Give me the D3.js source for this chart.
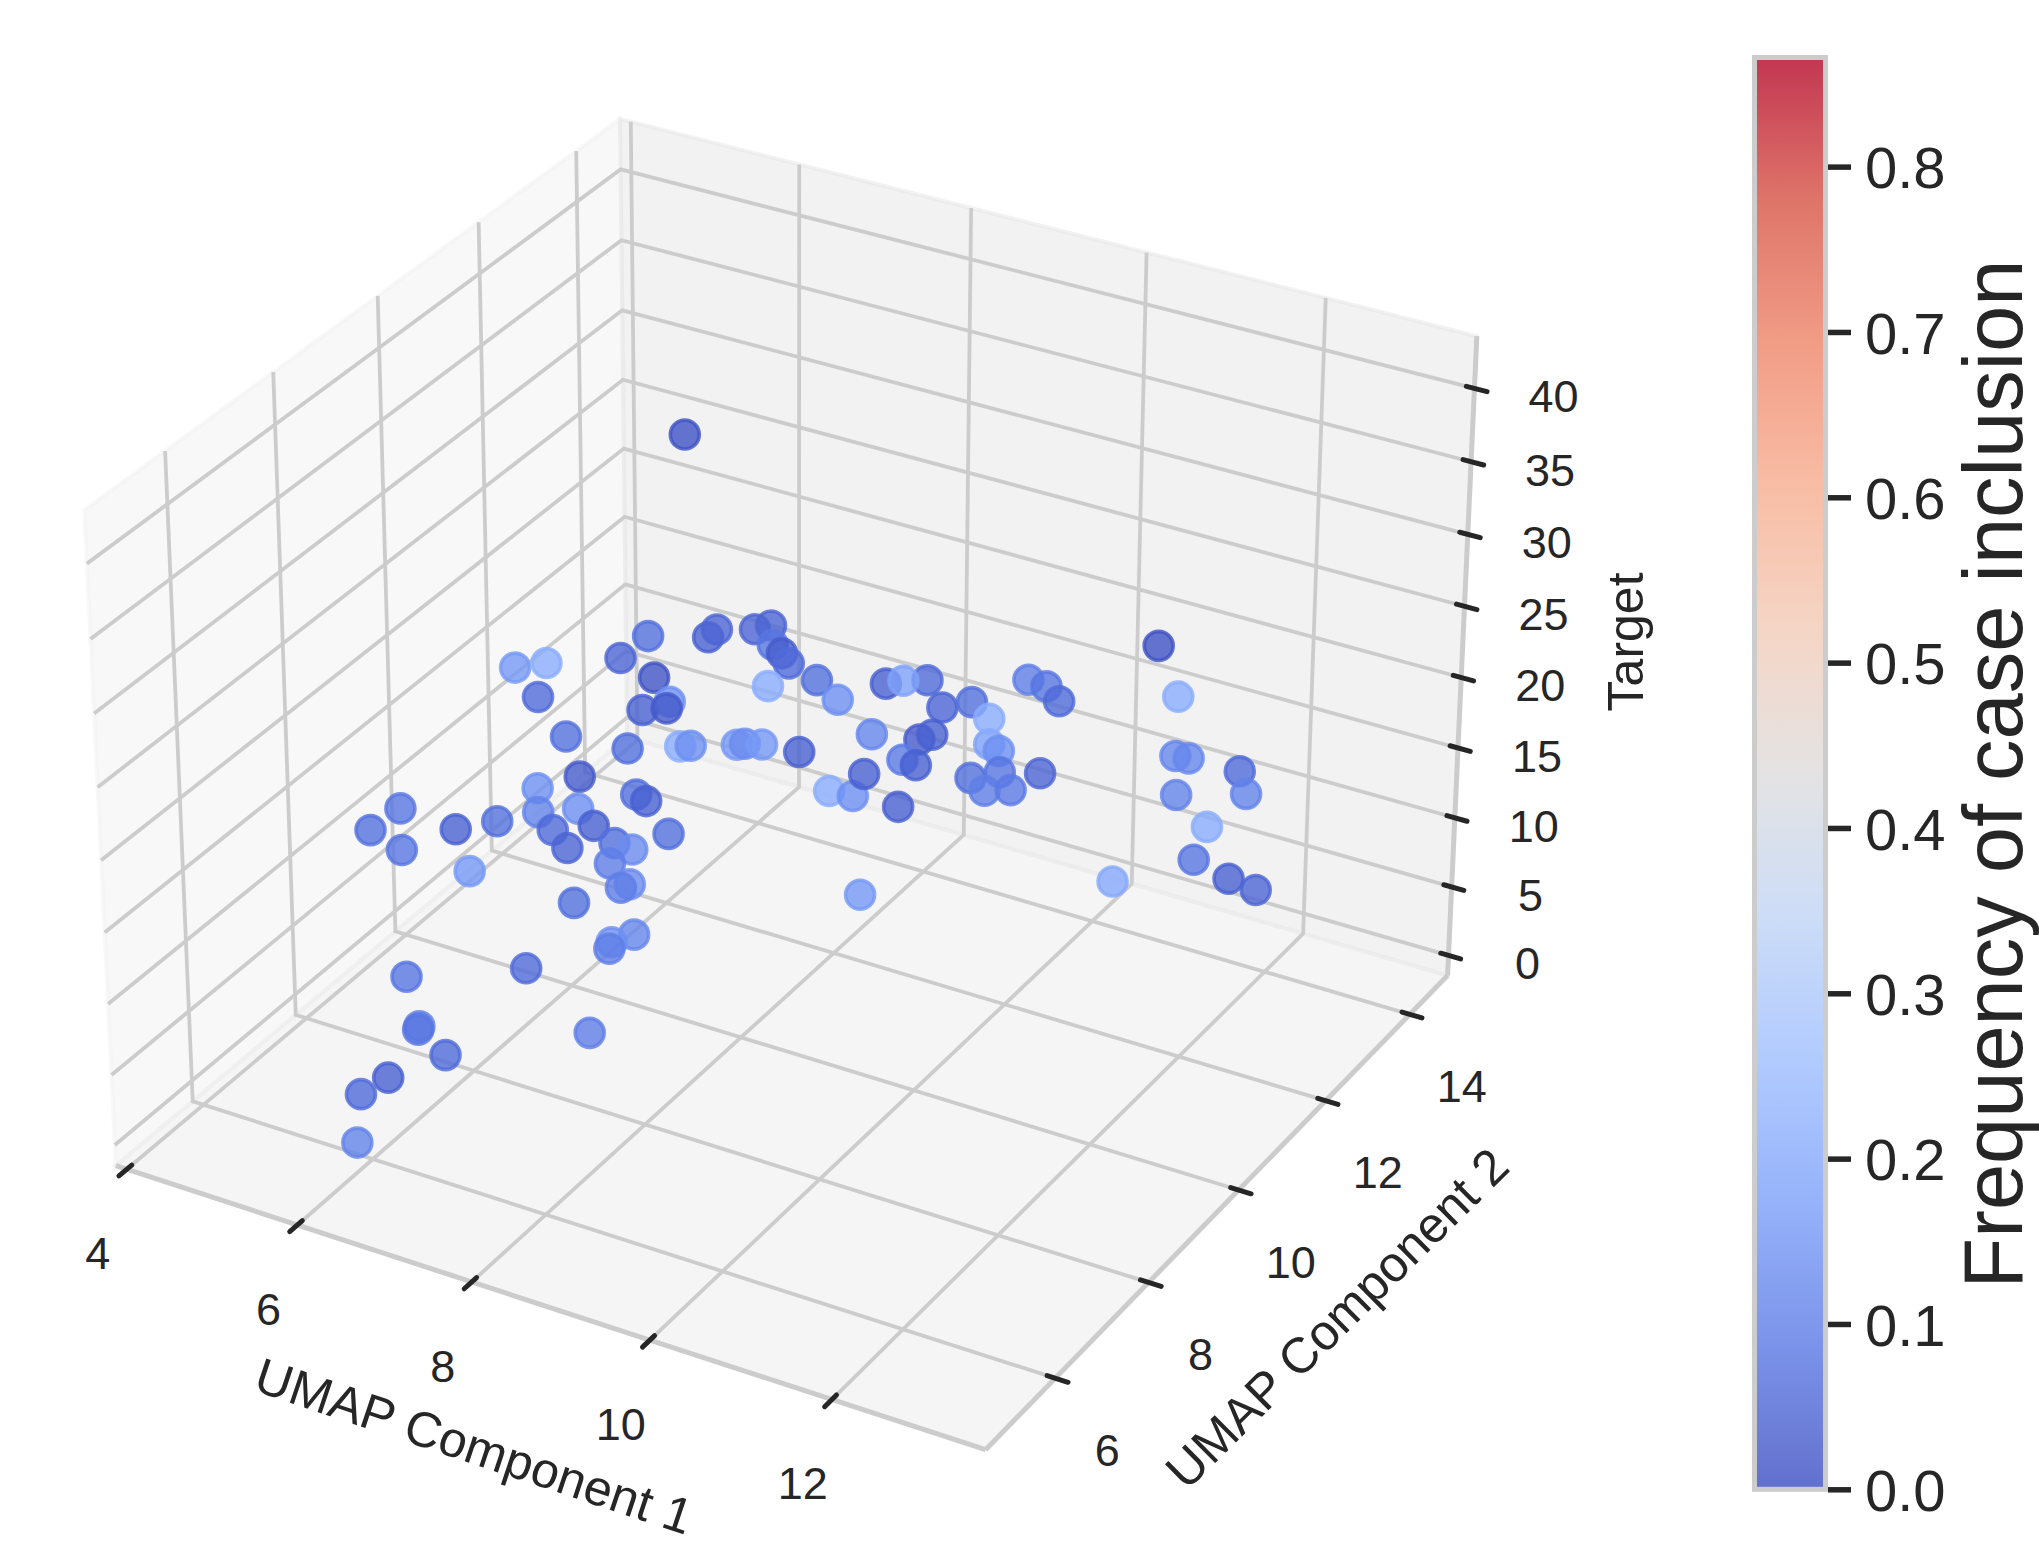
<!DOCTYPE html>
<html>
<head>
<meta charset="utf-8">
<script src="https://cdn.jsdelivr.net/npm/d3@7"></script>
<style>
    body { margin: 0; background: #fff; }
    text { font-family: "Liberation Sans", Arial, sans-serif; fill: #262626; }
</style>
</head>
<body>
<div id="graph-container"></div>
<script>
// values, one entry per case
const umap1 = [5.42,5.52,5.49,5.58,5.88,5.72,6.06,5.93,6.26,6.23,6.38,6.51,7.05,7.14,7.34,7.77,5.85,5.62,5.49,6.29,6.43,5.48,5.84,5.02,4.93,5.03,5.22,5.35,5.75,6.11,6.02,6.44,6.66,6.89,6.55,5.26,6.89,6.82,6.48,7.29,7.13,7.16,6.51,5.42,6.54,6.61,7.03,7.19,7.26,7.40,7.49,7.34,7.85,5.90,5.91,6.34,5.96,5.82,6.11,7.55,11.30,11.46,11.46,11.57,11.98,12.03,11.47,11.73,11.63,11.91,12.14,11.01,9.14,8.93,8.13,8.40,8.53,8.13,8.60,9.04,8.78,9.27,9.57,10.10,10.32,10.49,9.87,9.99,9.80,8.59,9.11,9.23,8.97,9.14,9.75,10.03,9.90,10.12,10.36,5.69]
const umap2 = [9.95,10.41,10.28,10.68,11.88,11.58,11.68,11.66,11.65,11.64,11.65,11.64,11.65,11.66,11.66,11.67,11.48,10.88,10.24,10.88,10.84,10.26,10.46,8.30,7.86,8.29,9.04,9.65,10.09,10.31,9.92,10.16,10.14,10.49,9.87,9.23,9.68,9.62,9.25,9.06,8.88,8.78,8.22,7.68,11.97,12.03,12.08,12.13,12.04,11.98,11.96,11.79,11.90,7.12,7.08,6.89,6.40,6.10,5.54,7.69,12.74,12.89,12.86,12.94,13.29,13.35,12.88,13.08,13.00,13.25,13.42,12.40,10.44,11.65,11.65,11.66,11.66,11.83,11.99,12.06,12.03,11.95,12.02,12.23,12.20,12.15,11.83,11.81,11.96,11.71,11.76,11.81,11.66,11.63,11.66,11.76,11.68,11.83,12.01,13.02]
const target = [20.5,19.7,17.6,13.8,18.1,17.1,16.0,13.5,14.7,14.2,11.7,12.0,13.0,13.2,13.5,13.7,11.1,10.4,11.2,10.3,10.2,9.4,9.7,14.6,14.2,11.7,11.3,10.3,9.1,9.4,8.8,9.2,9.2,9.7,8.8,7.8,8.5,8.3,7.7,7.5,7.2,7.1,6.2,5.2,18.9,19.4,20.0,20.4,19.4,19.2,18.7,17.3,18.3,4.3,4.2,3.8,3.0,2.5,1.4,5.2,24.3,20.6,16.5,16.3,15.1,13.4,13.7,11.3,9.0,7.4,6.5,8.1,9.6,11.9,11.6,11.7,13.5,17.6,19.1,19.9,19.5,18.7,19.4,21.3,21.3,20.7,17.5,17.3,18.8,16.3,16.7,17.1,15.3,15.3,15.4,16.0,14.7,14.7,15.8,29.0]
const frequency = [.16,.21,.06,.07,.07,.05,.015,.04,.14,.025,.21,.14,.16,.13,.16,.04,.07,.03,.14,.07,.04,.11,.14,.08,.07,.08,.04,.07,.06,.04,.05,.07,.13,.07,.1,.16,.13,.1,.07,.12,.14,.1,.06,.08,.04,.05,.05,.05,.08,.03,.06,.21,.07,.1,.08,.06,.04,.06,.11,.1,.01,.21,.12,.12,.06,.11,.11,.21,.08,.04,.05,.2,.16,.04,.21,.14,.04,.14,.04,.06,.18,.05,.07,.1,.08,.06,.18,.14,.21,.12,.03,.04,.09,.04,.07,.08,.1,.09,.05,.01]

const xTicks = [4, 6, 8, 10, 12]
const yTicks = [6, 8, 10, 12, 14]
const zTicks = [0, 5, 10, 15, 20, 25, 30, 35, 40]
const freqTicks = [0, 0.1, 0.2, 0.3, 0.4, 0.5, 0.6, 0.7, 0.8]
const freqMax = 0.866

// matplotlib coolwarm, sampled every tenth
const coolwarm = ["#3b4cc0", "#5a78e4", "#7b9ff9", "#9ebeff", "#c0d4f5", "#dddcdc", "#f2cbb7", "#f7ac8e", "#ee8468", "#d65244", "#b40426"]

const width = 2039
const height = 1547

const xLim = [3.871, 13.655]
const yLim = [4.55, 14.92]
const zLim = [-1.48, 43.53]

// same camera as mplot3d: elev 30, azim -60, dist 10, box aspect 4:4:3
const elev = Math.PI / 6, azim = -Math.PI / 3, dist = 10
const boxK = 1.8294640721620434 * 25 / 24 / Math.hypot(4, 4, 3)

const xBox = d3.scaleLinear(xLim, [-2 * boxK, 2 * boxK])
const yBox = d3.scaleLinear(yLim, [-2 * boxK, 2 * boxK])
const zBox = d3.scaleLinear(zLim, [-1.5 * boxK, 1.5 * boxK])

const view = [Math.cos(elev) * Math.cos(azim), Math.cos(elev) * Math.sin(azim), Math.sin(elev)]
const right = [Math.sin(-azim), Math.cos(azim), 0]
const up = [
    view[1] * right[2] - view[2] * right[1],
    view[2] * right[0] - view[0] * right[2],
    view[0] * right[1] - view[1] * right[0]
]
const dot = (a, b) => a[0] * b[0] + a[1] * b[1] + a[2] * b[2]

// projected plane to pixels
const screenX = d3.scaleLinear([-0.1, 0.1], [794 - 836.9, 794 + 836.9])
const screenY = d3.scaleLinear([-0.1, 0.1], [752.4 + 836.9, 752.4 - 836.9])

function project(x, y, z) {
    const p = [xBox(x), yBox(y), zBox(z)]
    const depth = dist - dot(view, p)
    return [screenX(dot(right, p) / depth), screenY(dot(up, p) / depth)]
}

const [x0, x1] = xLim, [y0, y1] = yLim, [z0, z1] = zLim
const line = d3.line()

const svg = d3.select("#graph-container").append("svg")
    .attr("width", width)
    .attr("height", height)
    .attr("viewBox", [0, 0, width, height])
    .style("display", "block")

// Panes
const panes = [
    { color: "rgb(242,242,242)", corners: [[x0, y0, z0], [x0, y1, z0], [x0, y1, z1], [x0, y0, z1]] },
    { color: "rgb(230,230,230)", corners: [[x0, y1, z0], [x1, y1, z0], [x1, y1, z1], [x0, y1, z1]] },
    { color: "rgb(236,236,236)", corners: [[x0, y0, z0], [x1, y0, z0], [x1, y1, z0], [x0, y1, z0]] }
]
svg.append("g")
    .selectAll()
    .data(panes)
    .join("path")
    .attr("d", d => line(d.corners.map(c => project(...c))) + "Z")
    .attr("fill", d => d.color)
    .attr("fill-opacity", 0.5)
    .attr("stroke", d => d.color)
    .attr("stroke-opacity", 0.5)
    .attr("stroke-width", 4)

// Grid lines
const gridLines = [
    ...xTicks.map(t => [[t, y0, z0], [t, y1, z0], [t, y1, z1]]),
    ...yTicks.map(t => [[x1, t, z0], [x0, t, z0], [x0, t, z1]]),
    ...zTicks.map(t => [[x0, y0, t], [x0, y1, t], [x1, y1, t]])
]
svg.append("g")
    .attr("fill", "none")
    .attr("stroke", "#cccccc")
    .attr("stroke-width", 3.8)
    .selectAll()
    .data(gridLines)
    .join("path")
    .attr("d", d => line(d.map(c => project(...c))))

// Axis edges
const edges = [
    [[x0, y0, z0], [x1, y0, z0]],
    [[x1, y0, z0], [x1, y1, z0]],
    [[x1, y1, z0], [x1, y1, z1]]
]
svg.append("g")
    .attr("fill", "none")
    .attr("stroke", "#cccccc")
    .attr("stroke-width", 5)
    .selectAll()
    .data(edges)
    .join("path")
    .attr("d", d => line(d.map(c => project(...c))))

// Ticks, along the neighbouring axis, a little in and a little out
const dx = x1 - x0, dy = y1 - y0
const inner = 0.009, outer = 0.014
const ticks3d = [
    ...xTicks.map(t => ({ label: t, ox: -29, oy: 84, edge: [t, y0, z0], from: [t, y0 + inner * dy, z0], to: [t, y0 - outer * dy, z0] })),
    ...yTicks.map(t => ({ label: t, ox: 52, oy: 72, edge: [x1, t, z0], from: [x1 - inner * dx, t, z0], to: [x1 + outer * dx, t, z0] })),
    ...zTicks.map(t => ({ label: t, ox: 79, oy: 8, edge: [x1, y1, t], from: [x1 - inner * dx, y1, t], to: [x1 + outer * dx, y1, t] }))
]
svg.append("g")
    .attr("stroke", "#262626")
    .attr("stroke-width", 5)
    .attr("stroke-linecap", "round")
    .selectAll()
    .data(ticks3d)
    .join("path")
    .attr("d", d => line([project(...d.from), project(...d.to)]))

svg.append("g")
    .attr("font-size", 45)
    .attr("text-anchor", "middle")
    .selectAll()
    .data(ticks3d)
    .join("text")
    .attr("x", d => project(...d.edge)[0] + d.ox)
    .attr("y", d => project(...d.edge)[1] + d.oy)
    .attr("dy", "0.35em")
    .text(d => d.label)

// Axis labels
const axisLabels = [
    { text: "UMAP Component 1", at: project((x0 + x1) / 2, y0, z0), ox: -65, oy: 142, angle: 18.5 },
    { text: "UMAP Component 2", at: project(x1, (y0 + y1) / 2, z0), ox: 110, oy: 116, angle: -44.7 },
    { text: "Target", at: project(x1, y1, (z0 + z1) / 2), ox: 164, oy: -21, angle: -90 }
]
svg.append("g")
    .attr("font-size", 50)
    .attr("text-anchor", "middle")
    .selectAll()
    .data(axisLabels)
    .join("text")
    .attr("transform", d => `translate(${d.at[0] + d.ox},${d.at[1] + d.oy}) rotate(${d.angle})`)
    .attr("dy", "0.35em")
    .text(d => d.text)

// Colour scale
const colorStops = coolwarm.map((c, i) => i / (coolwarm.length - 1))
const color = d3.scaleLinear()
    .domain(colorStops.map(s => s * freqMax))
    .range(coolwarm)

// Points
const cases = d3.range(umap1.length)
svg.append("g")
    .attr("stroke-width", 3.6)
    .selectAll()
    .data(cases)
    .join("circle")
    .attr("cx", i => project(umap1[i], umap2[i], target[i])[0])
    .attr("cy", i => project(umap1[i], umap2[i], target[i])[1])
    .attr("r", 14.5)
    .attr("fill", i => color(frequency[i]))
    .attr("stroke", i => color(frequency[i]))
    .attr("fill-opacity", 0.8)
    .attr("stroke-opacity", 0.8)

// Colorbar
const barY = d3.scaleLinear([0, freqMax], [1489.3, 57.5])
const gradient = svg.append("defs").append("linearGradient")
    .attr("id", "bar-gradient")
    .attr("x1", 0).attr("x2", 0).attr("y1", 1).attr("y2", 0)
gradient.selectAll()
    .data(coolwarm)
    .join("stop")
    .attr("offset", (d, i) => colorStops[i])
    .attr("stop-color", d => d)

svg.append("rect")
    .attr("x", 1754.5)
    .attr("y", barY(freqMax))
    .attr("width", 71)
    .attr("height", barY(0) - barY(freqMax))
    .attr("fill", "url(#bar-gradient)")
    .attr("fill-opacity", 0.8)
svg.append("rect")
    .attr("x", 1754.5)
    .attr("y", barY(freqMax))
    .attr("width", 71)
    .attr("height", barY(0) - barY(freqMax))
    .attr("fill", "none")
    .attr("stroke", "#cccccc")
    .attr("stroke-width", 5)

const barAxis = svg.append("g")
    .attr("transform", "translate(1828,0)")
    .call(d3.axisRight(barY).tickValues(freqTicks).tickSize(23).tickPadding(14).tickFormat(d3.format(".1f")))
barAxis.select(".domain").remove()
barAxis.selectAll("line").attr("stroke", "#262626").attr("stroke-width", 5.5)
barAxis.selectAll("text")
    .attr("font-size", 58)
    .attr("font-family", '"Liberation Sans", Arial, sans-serif')
    .attr("dy", "0.365em")

svg.append("text")
    .attr("transform", "translate(2022,774) rotate(-90)")
    .attr("font-size", 83)
    .attr("text-anchor", "middle")
    .text("Frequency of case inclusion")
</script>
</body>
</html>
